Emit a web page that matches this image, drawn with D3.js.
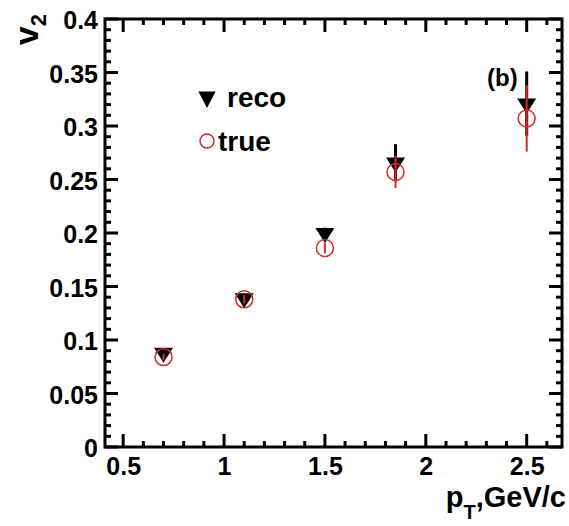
<!DOCTYPE html>
<html><head><meta charset="utf-8">
<script src="https://cdn.jsdelivr.net/npm/d3@7"></script>
<style>
body{margin:0;background:#fff;}
svg{display:block;font-family:"Liberation Sans",Arial,Helvetica,sans-serif;font-weight:bold;}
</style></head>
<body><svg id="c" width="569" height="526"></svg>
<script>
const pt = [0.7, 1.1, 1.5, 1.85, 2.5];
const recoV2 = [0.088, 0.139, 0.200, 0.266, 0.321];
const recoErr = [0.003, 0.004, 0.005, 0.017, 0.030];
const trueV2 = [0.084, 0.138, 0.186, 0.257, 0.307];
const trueErr = [0.003, 0.004, 0.005, 0.015, 0.031];
const xTicks = [0.5, 1, 1.5, 2, 2.5];
const yTicks = [0, 0.05, 0.1, 0.15, 0.2, 0.25, 0.3, 0.35, 0.4];
const legendLabels = ["reco", "true"];

const svg = d3.select("#c");
const L = 105, R = 562, T = 19, B = 447;
const x = d3.scaleLinear().domain([0.41, 2.675]).range([L, R]);
const y = d3.scaleLinear().domain([0, 0.4]).range([B, T]);
const red = "#d42a2a";

// minor/major ticks
const xMinor = d3.range(5, 27).map(d => d / 10).filter(d => d >= 0.41 && d <= 2.675);
const yMinor = d3.range(0, 41).map(d => d / 100);
const isMajX = d => xTicks.some(t => Math.abs(t - d) < 1e-6);
const isMajY = d => Math.abs(d * 20 - Math.round(d * 20)) < 1e-6;
const g = svg.append("g").attr("stroke", "#000").attr("stroke-width", 3);
xMinor.forEach(d => {
  const len = isMajX(d) ? 13 : 6;
  g.append("line").attr("x1", x(d)).attr("x2", x(d)).attr("y1", B).attr("y2", B - len);
  g.append("line").attr("x1", x(d)).attr("x2", x(d)).attr("y1", T).attr("y2", T + len);
});
yMinor.forEach(d => {
  const len = isMajY(d) ? 13 : 6;
  g.append("line").attr("y1", y(d)).attr("y2", y(d)).attr("x1", L).attr("x2", L + len);
  g.append("line").attr("y1", y(d)).attr("y2", y(d)).attr("x1", R).attr("x2", R - len);
});
svg.append("rect").attr("x", L).attr("y", T).attr("width", R - L).attr("height", B - T)
  .attr("fill", "none").attr("stroke", "#000").attr("stroke-width", 3);

// tick labels via axes (lines hidden)
const ax = svg.append("g").attr("transform", `translate(0,${B})`)
  .call(d3.axisBottom(x).tickValues(xTicks).tickFormat(d3.format("")).tickSize(0).tickPadding(10));
ax.select(".domain").remove();
ax.selectAll("text").attr("font-size", 25).attr("font-weight", "bold").attr("font-family", "Liberation Sans, Arial, sans-serif").attr("dy", "0.72em").attr("fill", "#000");
const ay = svg.append("g").attr("transform", `translate(${L},0)`)
  .call(d3.axisLeft(y).tickValues(yTicks).tickFormat(d3.format("")).tickSize(0).tickPadding(7));
ay.select(".domain").remove();
ay.selectAll("text").attr("font-size", 25).attr("font-weight", "bold").attr("font-family", "Liberation Sans, Arial, sans-serif").attr("dy", "0.38em").attr("fill", "#000");

// axis titles
const xt = svg.append("text").attr("x", 566).attr("y", 507).attr("text-anchor", "end").attr("font-size", 29);
xt.append("tspan").text("p");
xt.append("tspan").attr("font-size", 20).attr("dy", 12).text("T");
xt.append("tspan").attr("dy", -12).text(",GeV/c");
const yt = svg.append("text").attr("transform", "translate(38,14) rotate(-90)").attr("text-anchor", "end").attr("font-size", 34);
yt.append("tspan").text("v");
yt.append("tspan").attr("font-size", 22).attr("dy", 8).text("2");

// "(b)"
svg.append("text").attr("x", 487).attr("y", 86).attr("font-size", 24).text("(b)");

// data
const tri = d3.symbol().type(d3.symbolTriangle).size(130);
const recoG = svg.append("g");
pt.forEach((p, i) => {
  recoG.append("line").attr("x1", x(p)).attr("x2", x(p))
    .attr("y1", y(recoV2[i] - recoErr[i])).attr("y2", y(recoV2[i] + recoErr[i]))
    .attr("stroke", "#000").attr("stroke-width", 3);
});
pt.forEach((p, i) => {
  recoG.append("path").attr("d", tri)
    .attr("transform", `translate(${x(p)},${y(recoV2[i])}) rotate(180) scale(1.1,1)`).attr("fill", "#000");
});
const trueG = svg.append("g");
pt.forEach((p, i) => {
  trueG.append("line").attr("x1", x(p)).attr("x2", x(p))
    .attr("y1", y(trueV2[i] - trueErr[i])).attr("y2", y(trueV2[i] + trueErr[i]))
    .attr("stroke", red).attr("stroke-width", 2);
});
pt.forEach((p, i) => {
  trueG.append("circle").attr("cx", x(p)).attr("cy", y(trueV2[i])).attr("r", 8.5)
    .attr("fill", "none").attr("stroke", red).attr("stroke-width", 1.5);
});

// legend
svg.append("path").attr("d", tri).attr("transform", "translate(207,97) rotate(180) scale(1.0,1.1)").attr("fill", "#000");
svg.append("text").attr("x", 227).attr("y", 107).attr("font-size", 28).text(legendLabels[0]);
svg.append("circle").attr("cx", 207).attr("cy", 141).attr("r", 7).attr("fill", "none").attr("stroke", red).attr("stroke-width", 1.5);
svg.append("text").attr("x", 218).attr("y", 151).attr("font-size", 28).text(legendLabels[1]);
</script></body></html>
